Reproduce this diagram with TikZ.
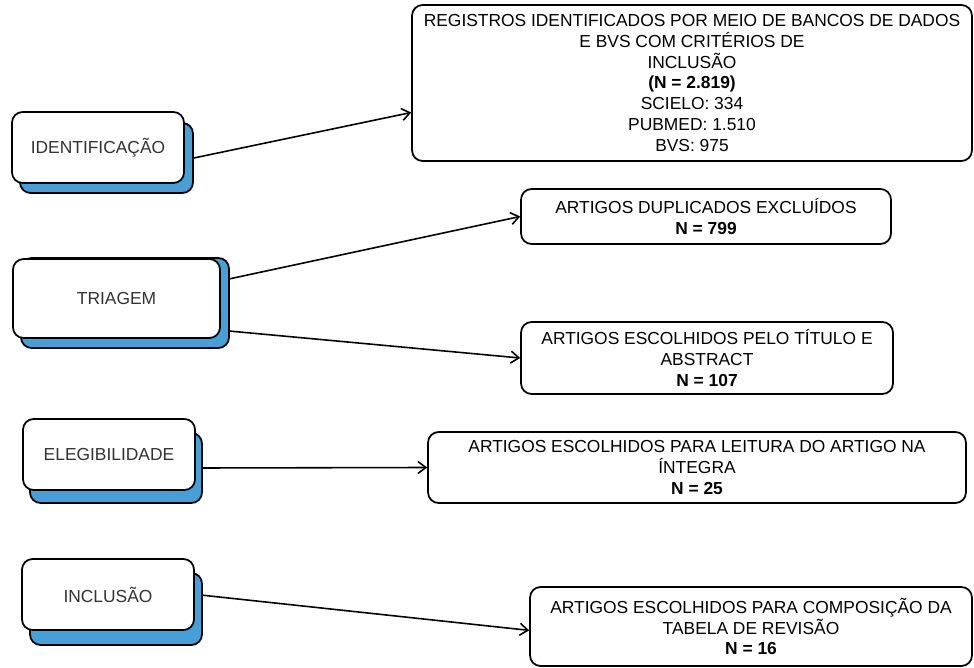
\documentclass[tikz,border=0pt]{standalone}
\usepackage{fontspec}
\setmainfont{Liberation Sans}
\usepackage{tikz}
\usetikzlibrary{arrows.meta, positioning}
\definecolor{stageblue}{RGB}{69,160,218}

\begin{document}
\begin{tikzpicture}[x=0.02cm, y=-0.02cm,
    stage/.style={draw, line width=1pt, rounded corners=6pt, fill=white, align=center, text=black!80,
        font=\fontsize{9.9}{11.8}\selectfont, minimum width=3.44cm, minimum height=1.42cm},
    shade/.style={draw, line width=1pt, rounded corners=6pt, fill=stageblue, minimum width=3.44cm, minimum height=1.40cm},
    result/.style={draw, line width=1pt, rounded corners=6pt, fill=white, align=center,
        font=\fontsize{9.9}{11.8}\selectfont},
    link/.style={-{Straight Barb[length=1.6mm, width=2.4mm]}, line width=0.9pt}]
    
    \useasboundingbox (0,0) rectangle (974,668);
    
    % Stage 1
    \node[shade, minimum width=3.46cm] (idshade) at (106.5,158) {};
    \node[stage] (ident) at (98,147.5) {IDENTIFICAÇÃO};
    
    % Stage 2
    \node[shade, minimum width=4.16cm, minimum height=1.80cm] (trshade) at (125,303) {};
    \node[stage, minimum width=4.14cm, minimum height=1.58cm] (triag) at (116.5,298.5) {TRIAGEM};
    
    % Stage 3
    \node[shade] (elshade) at (116,468) {};
    \node[stage] (eleg) at (109,454.5) {ELEGIBILIDADE};
    
    % Stage 4
    \node[shade, minimum height=1.44cm] (inshade) at (116,609) {};
    \node[stage] (incl) at (108,594.5) {INCLUSÃO};
    
    % Results
    \node[result, minimum width=11.2cm, minimum height=3.12cm] (reg) at (692,83) {
        REGISTROS IDENTIFICADOS POR MEIO DE BANCOS DE DADOS\\
        E BVS COM CRITÉRIOS DE\\
        INCLUSÃO\\
        \textbf{(N = 2.819)}\\
        SCIELO: 334\\
        PUBMED: 1.510\\
        BVS: 975
    };
    
    \node[result, minimum width=7.4cm, minimum height=1.1cm] (dup) at (706,216.5) {
        ARTIGOS DUPLICADOS EXCLUÍDOS\\
        \textbf{N = 799}
    };
    
    \node[result, minimum width=7.44cm, minimum height=1.44cm] (tit) at (707,358) {
        ARTIGOS ESCOLHIDOS PELO TÍTULO E\\
        ABSTRACT\\
        \textbf{N = 107}
    };
    
    \node[result, minimum width=10.76cm, minimum height=1.42cm] (leit) at (697,467.5) {
        ARTIGOS ESCOLHIDOS PARA LEITURA DO ARTIGO NA\\
        ÍNTEGRA\\
        \textbf{N = 25}
    };
    
    \node[result, minimum width=8.84cm, minimum height=1.58cm] (comp) at (751,626.5) {
        ARTIGOS ESCOLHIDOS PARA COMPOSIÇÃO DA\\
        TABELA DE REVISÃO\\
        \textbf{N = 16}
    };
    
    % Arrows
    \draw[link] (idshade.east) -- (reg.186);
    \draw[link] (trshade.13) -- (dup.west);
    \draw[link] (trshade.345) -- (tit.west);
    \draw[link] (elshade.east) -- (leit.west);
    \draw[link] (inshade.9) -- (comp.181);
\end{tikzpicture}
\end{document}
